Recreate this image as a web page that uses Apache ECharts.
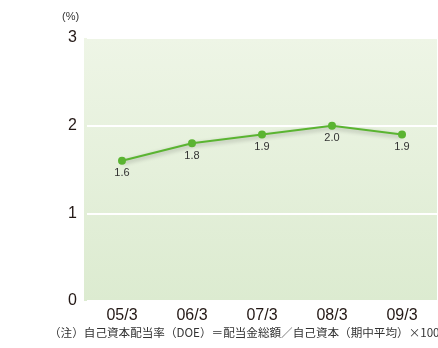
<!DOCTYPE html>
<html>
<head>
<meta charset="utf-8">
<script src="https://cdn.jsdelivr.net/npm/echarts@6/dist/echarts.min.js"></script>
<style>
html,body{margin:0;padding:0;background:#fff;}
#c{width:438px;height:348px;}
</style>
</head>
<body>
<div id="c"></div>
<script>
const categories = ['05/3', '06/3', '07/3', '08/3', '09/3'];
const doeValues = [1.6, 1.8, 1.9, 2.0, 1.9];
const yTicks = [0, 1, 2, 3];
const unitLabel = '(%)';
const noteText = '（注）自己資本配当率（DOE）＝配当金総額／自己資本（期中平均）×100';

const chart = echarts.init(document.getElementById('c'), null, {renderer: 'canvas'});
const font = 'Helvetica, Arial, "Liberation Sans", "Noto Sans CJK JP", sans-serif';
const cjkFont = '"Noto Sans CJK JP", sans-serif';
chart.setOption({
  animation: false,
  textStyle: {fontFamily: font},
  grid: {left: 87, right: 1, top: 38, bottom: 47},
  graphic: [
    {type: 'rect', z: -10, shape: {x: 84, y: 38, width: 353, height: 263},
     style: {fill: new echarts.graphic.LinearGradient(0, 0, 0, 1, [
       {offset: 0, color: '#eef5e6'}, {offset: 1, color: '#dcebd0'}])}},
    {type: 'text', left: 62, top: 11, style: {text: unitLabel, fill: '#333', font: '11px ' + font}},
    {type: 'text', left: 49, top: 327, style: {text: noteText, fill: '#333', font: '11.6px ' + cjkFont}}
  ],
  xAxis: {
    type: 'category', data: categories, boundaryGap: true,
    axisLine: {show: false}, axisTick: {show: false},
    axisLabel: {fontSize: 16, color: '#231815', margin: 7}
  },
  yAxis: {
    type: 'value', min: yTicks[0], max: yTicks[yTicks.length - 1], interval: 1,
    axisLine: {show: false}, axisTick: {show: false},
    axisLabel: {fontSize: 16, color: '#231815', margin: 10},
    splitLine: {lineStyle: {color: '#ffffff', width: 2}}
  },
  series: [{
    type: 'line', data: doeValues,
    symbol: 'circle', symbolSize: 8,
    itemStyle: {color: '#5ab431'},
    lineStyle: {color: '#5ab431', width: 2, shadowColor: 'rgba(0,0,0,0.3)', shadowBlur: 4, shadowOffsetY: 2},
    label: {show: true, position: 'bottom', distance: 3, fontSize: 11, color: '#333',
      formatter: p => p.value.toFixed(1)}
  }]
});
</script>
</body>
</html>
